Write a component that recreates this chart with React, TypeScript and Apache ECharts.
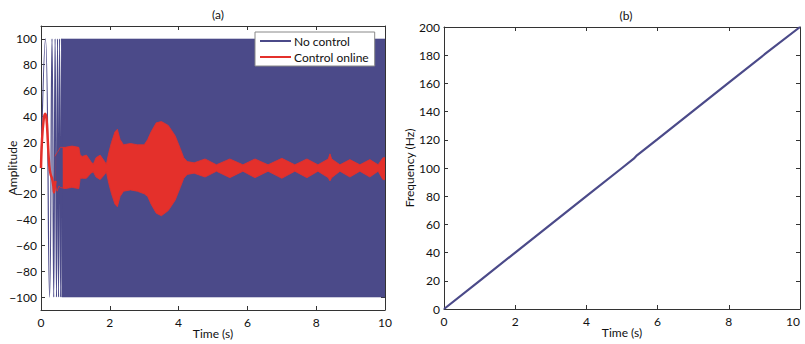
import React, { useEffect, useRef } from "react";
import * as echarts from "echarts";

// ---- Panel (a): amplitude vs time ----
const ampTicks = [-100, -80, -60, -40, -20, 0, 20, 40, 60, 80, 100];

// "No control": early oscillation extremes [t, amp]
const noCtrlEarlyT = [0, 0.13, 0.25, 0.32, 0.37, 0.41, 0.45, 0.48, 0.51, 0.54, 0.57, 0.6, 0.62];
const noCtrlEarlyA = [0, 100, -100, 100, -100, 100, -100, 100, -100, 100, -100, 100, -100];
// afterwards the oscillation is so dense that it fills the band
const noCtrlBandT = [0.6, 10];
const noCtrlBandLo = [-100, -100];
const noCtrlBandHi = [100, 100];

// "Control online": early transient [t, amp]
const ctrlEarlyT = [0, 0.03, 0.08, 0.12, 0.16, 0.2, 0.24, 0.28, 0.32, 0.36, 0.38, 0.42];
const ctrlEarlyA = [0, 22, 38, 42, 38, 20, 2, -5, -8, -14, -19, -10];
// "Control online": envelope of the dense oscillation
const ctrlT = [0.4, 0.47, 0.52, 0.56, 0.7, 0.9, 1.1, 1.14, 1.2, 1.32, 1.45, 1.52, 1.6, 1.72, 1.85, 1.9, 1.97, 2.05, 2.15, 2.22, 2.3, 2.4, 2.6, 2.8, 3.0, 3.1, 3.2, 3.35, 3.5, 3.7, 3.9, 4.05, 4.15, 4.25, 4.45, 4.77, 5.1, 5.49, 5.87, 6.22, 6.6, 7.0, 7.38, 7.73, 8.05, 8.35, 8.4, 8.45, 8.69, 8.98, 9.27, 9.56, 9.8, 9.94, 10];
const ctrlHi = [9, 12, 14, 16, 16, 17, 16, 10, 9, 10, 5, 3, 8, 10, 5, 3, 12, 20, 28, 30, 22, 18, 19, 18, 18, 22, 28, 35, 36, 33, 25, 15, 8, 5, 4, 7, 2.5, 7, 2.5, 7, 2.5, 7.5, 2.5, 7, 2.5, 7, 11, 7, 2.5, 6.5, 2.5, 6.5, 2.5, 8, 8];
const ctrlLo = [-12, -18, -14, -15, -16, -15, -16, -8, -8, -8, -4, -3, -7, -9, -5, -3, -12, -20, -28, -30, -22, -18, -17, -18, -20, -22, -28, -35, -37, -33, -25, -15, -8, -5, -4, -7, -2.5, -7.5, -2.5, -7.5, -2.5, -8, -2.5, -7.5, -2.5, -7.5, -10, -7.5, -2.5, -7, -2.5, -7, -2.5, -9, -9];

// ---- Panel (b): frequency vs time ----
const freqT = [0, 1, 2, 3, 4, 5, 5.33, 5.42, 6, 7, 8, 9, 10];
const freqHz = [0, 20, 40, 60, 80, 100, 106.6, 109, 120.5, 140.5, 160.5, 180.5, 200];

const BLUE = "#4b4a89";
const RED = "#e4302b";
const FONT = "Lato";

const zip = (a: number[], b: number[]) => a.map((v, i) => [v, b[i]]);
const minus = (v: number | string) => String(v).replace("-", "\u2212");

export default function App() {
  const ref = useRef<HTMLDivElement>(null);
  useEffect(() => {
    if (!ref.current) return;
    const chart = echarts.init(ref.current, undefined, { renderer: "svg" });
    const axisLine = { show: true, onZero: false, lineStyle: { color: "#333", width: 1 } };
    const tick = { inside: true, length: 4, lineStyle: { color: "#333" } };
    const lbl = { color: "#111", fontFamily: FONT, fontSize: 12 };
    const nameStyle = { color: "#111", fontFamily: FONT, fontSize: 12 };
    const band = (name: string, color: string, t: number[], v: number[], lw: number) => ({
      name, type: "line", xAxisIndex: 0, yAxisIndex: 0, symbol: "none", color,
      lineStyle: { width: lw, color }, areaStyle: { color, opacity: 1, origin: "auto" },
      data: zip(t, v),
    });

    const option: any = {
      animation: false,
      backgroundColor: "#fff",
      title: [
        { text: "(a)", left: 213, top: 3, textAlign: "center", textStyle: { fontFamily: FONT, fontSize: 12, fontWeight: "normal", color: "#111" } },
        { text: "(b)", left: 621, top: 4, textAlign: "center", textStyle: { fontFamily: FONT, fontSize: 12, fontWeight: "normal", color: "#111" } },
      ],
      legend: {
        orient: "vertical",
        left: 255,
        top: 32,
        backgroundColor: "#fff",
        borderColor: "#888",
        borderWidth: 1,
        padding: [3, 6, 3, 5],
        itemGap: 4,
        itemWidth: 31,
        itemHeight: 2,
        icon: "rect",
        textStyle: { fontFamily: FONT, fontSize: 12, color: "#111", padding: [0, 0, 0, -2] },
        data: [
          { name: "No control", itemStyle: { color: BLUE } },
          { name: "Control online", itemStyle: { color: RED } },
        ],
      },
      grid: [
        { left: 41, top: 26, width: 344, height: 284, outerBoundsMode: "none", containLabel: false },
        { left: 444, top: 27, width: 356, height: 282, outerBoundsMode: "none", containLabel: false },
      ],
      xAxis: [
        { gridIndex: 0, type: "value", min: 0, max: 10, interval: 2, position: "bottom", axisLine, axisTick: tick, splitLine: { show: false }, axisLabel: { ...lbl, margin: 6 }, name: "Time (s)", nameLocation: "middle", nameGap: 17, nameMoveOverlap: false, nameTextStyle: nameStyle },
        { gridIndex: 0, type: "value", min: 0, max: 10, interval: 2, position: "top", axisLine, axisTick: tick, splitLine: { show: false }, axisLabel: { show: false } },
        { gridIndex: 1, type: "value", min: 0, max: 10, interval: 2, position: "bottom", axisLine, axisTick: tick, splitLine: { show: false }, axisLabel: { ...lbl, margin: 6, alignMaxLabel: "right" }, name: "Time (s)", nameLocation: "middle", nameGap: 17, nameMoveOverlap: false, nameTextStyle: nameStyle },
        { gridIndex: 1, type: "value", min: 0, max: 10, interval: 2, position: "top", axisLine, axisTick: tick, splitLine: { show: false }, axisLabel: { show: false } },
      ],
      yAxis: [
        { gridIndex: 0, type: "value", min: -110, max: 110, position: "left", axisLine, axisTick: { ...tick, customValues: ampTicks }, splitLine: { show: false }, axisLabel: { ...lbl, margin: 4, customValues: ampTicks, formatter: minus }, name: "Amplitude", nameLocation: "middle", nameGap: 23, nameMoveOverlap: false, nameRotate: 90, nameTextStyle: nameStyle },
        { gridIndex: 0, type: "value", min: -110, max: 110, position: "right", axisLine, axisTick: { ...tick, customValues: ampTicks }, splitLine: { show: false }, axisLabel: { show: false } },
        { gridIndex: 1, type: "value", min: 0, max: 200, interval: 20, position: "left", axisLine, axisTick: tick, splitLine: { show: false }, axisLabel: { ...lbl, margin: 4 }, name: "Frequency (Hz)", nameLocation: "middle", nameGap: 29, nameMoveOverlap: false, nameRotate: 90, nameTextStyle: nameStyle },
        { gridIndex: 1, type: "value", min: 0, max: 200, interval: 20, position: "right", axisLine, axisTick: tick, splitLine: { show: false }, axisLabel: { show: false } },
      ],
      series: [
        // No control: dense band (upper and lower halves, each filled to 0)
        band("No control", BLUE, noCtrlBandT, noCtrlBandHi, 0.5),
        band("No control", BLUE, noCtrlBandT, noCtrlBandLo, 0.5),
        // No control: early oscillations
        { name: "No control", type: "line", xAxisIndex: 0, yAxisIndex: 0, symbol: "none", smooth: 0.5, color: BLUE, lineStyle: { width: 1.2, color: BLUE }, data: zip(noCtrlEarlyT, noCtrlEarlyA) },
        // Control online: envelope band
        band("Control online", RED, ctrlT, ctrlHi, 0.8),
        band("Control online", RED, ctrlT, ctrlLo, 0.8),
        // Control online: early transient
        { name: "Control online", type: "line", xAxisIndex: 0, yAxisIndex: 0, symbol: "none", smooth: 0.4, color: RED, lineStyle: { width: 2.5, color: RED }, data: zip(ctrlEarlyT, ctrlEarlyA) },
        // Frequency
        { name: "Frequency", type: "line", xAxisIndex: 2, yAxisIndex: 2, symbol: "none", color: BLUE, lineStyle: { width: 2.2, color: BLUE }, data: zip(freqT, freqHz) },
      ],
    };
    chart.setOption(option);
    return () => chart.dispose();
  }, []);
  return <div ref={ref} style={{ width: 805, height: 344, position: "absolute", left: 0, top: 0 }} />;
}
